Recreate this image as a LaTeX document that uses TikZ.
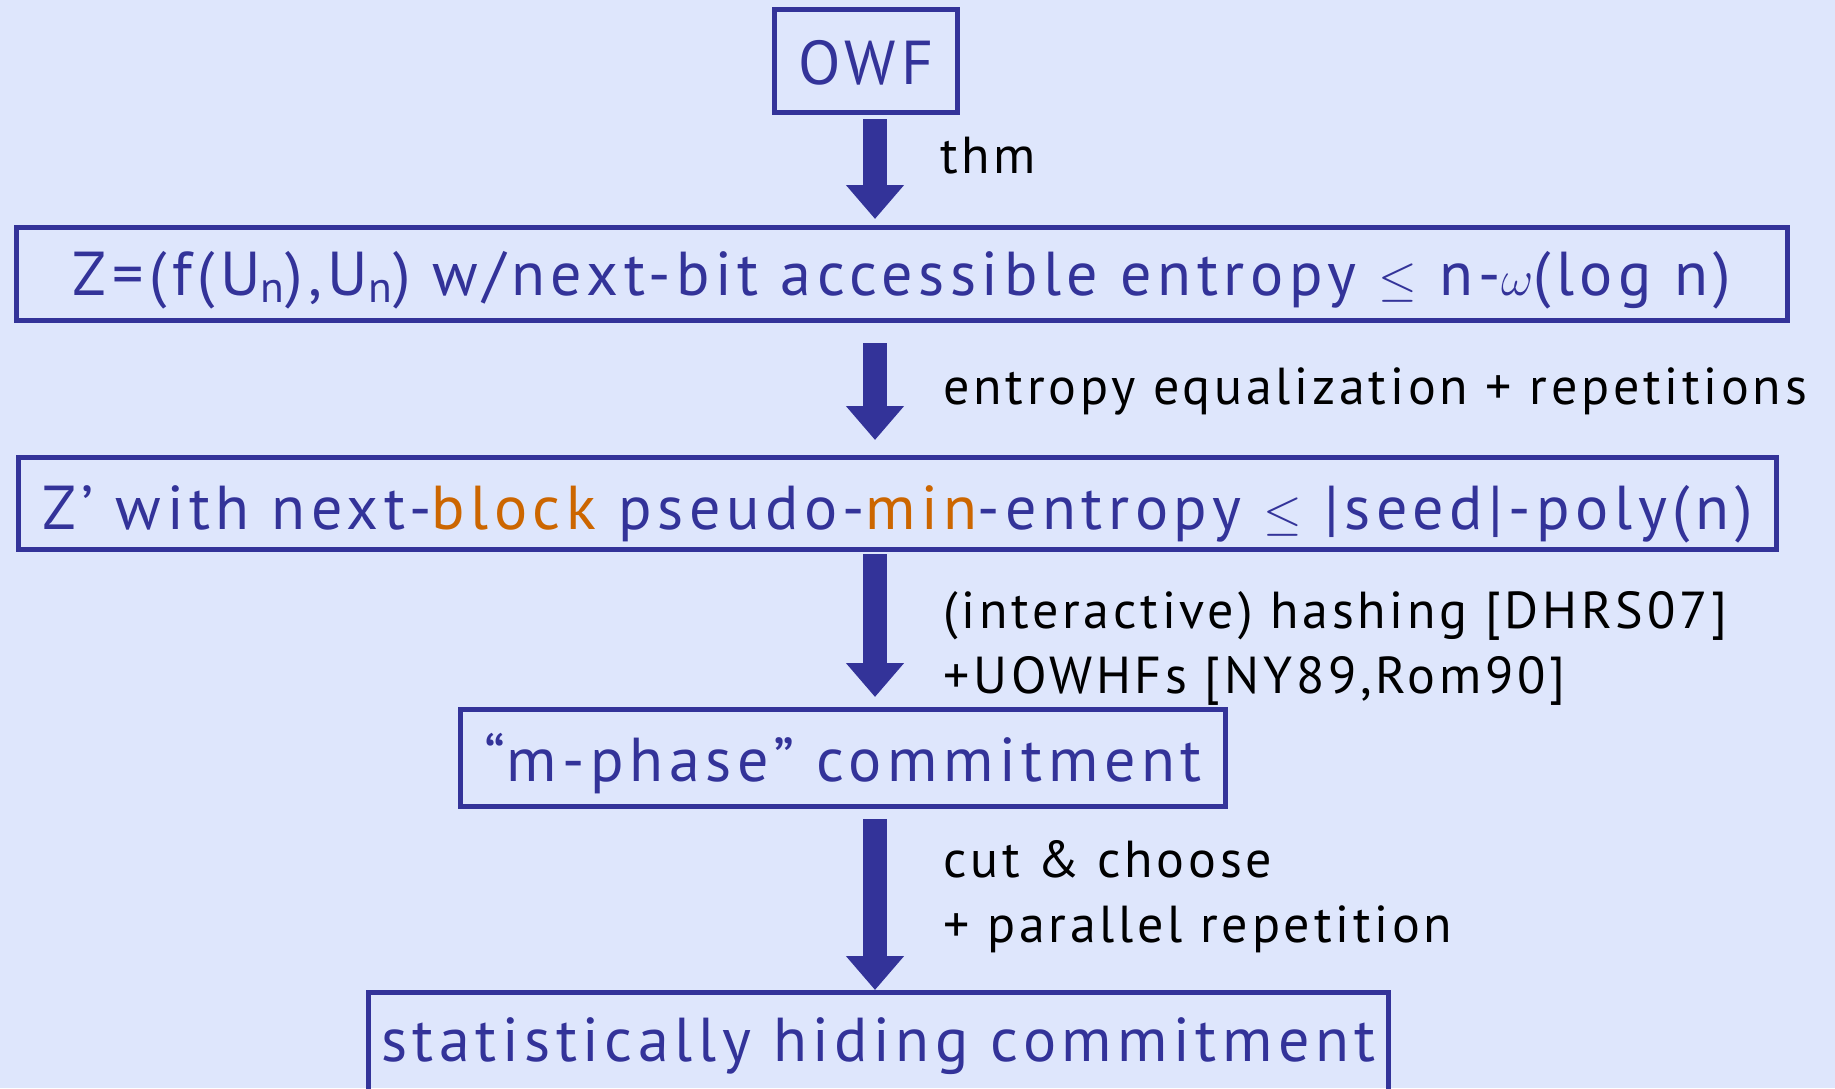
\documentclass[tikz,border=0pt]{standalone}
\usepackage{fontspec}
\setmainfont{PT Sans}
\newfontfamily\boxfont{PT Sans}[LetterSpace=9]
\newfontfamily\lblfont{PT Sans}[LetterSpace=7.2]
\usetikzlibrary{arrows.meta}
\definecolor{slideblue}{HTML}{333399}
\definecolor{slideorange}{HTML}{CC6600}
\definecolor{slidebg}{HTML}{DEE6FC}

\begin{document}
\begin{tikzpicture}[
    x=0.5pt, y=-0.5pt,
    box/.style={draw=slideblue, line width=2.5pt, text=slideblue, inner sep=0pt, anchor=base, font=\boxfont\fontsize{31}{37}\selectfont},
    lbl/.style={anchor=base west, inner sep=0pt, align=left, font=\lblfont\fontsize{26}{32.5}\selectfont},
    arr/.style={-{Triangle[length=17pt, width=28pt]}, line width=12pt, draw=slideblue},
]
\useasboundingbox[fill=slidebg] (0,0) rectangle (1835,1088);
\coordinate (spine) at (875,0);

\node[box, minimum width=91.5pt, text height=37.25pt, text depth=14.25pt] (owf) at (866,84) {OWF};
\node[box, minimum width=885.5pt, text height=33.75pt, text depth=12.75pt] (zbit) at (902,295)
    {Z=(f(U\textsubscript{n}),U\textsubscript{n}) w/next-bit accessible entropy $\leq$ n-$\omega$(log n)};
\node[box, minimum width=879pt, text height=35.75pt, text depth=10.25pt] (zblock) at (897.5,529)
    {Z’ with next-\textcolor{slideorange}{block} pseudo-\textcolor{slideorange}{min}-entropy $\leq$ |seed|-poly(n)};
\node[box, minimum width=382.5pt, text height=35.75pt, text depth=12.75pt] (mphase) at (843,781) {“m-phase” commitment};
\node[box, minimum width=510pt, text height=34.25pt, text depth=30pt] (stat) at (878.5,1061) {statistically hiding commitment};

\node[lbl] (l1) at (940,173) {thm};
\node[lbl] (l2) at (943,404) {entropy equalization + repetitions};
\node[lbl] (l3) at (943,693) {(interactive) hashing [DHRS07]\\+UOWHFs [NY89,Rom90]};
\node[lbl] (l4) at (943,942) {cut \& choose\\+ parallel repetition};

\draw[arr, shorten <=2pt, shorten >=3pt] (owf.south -| spine) -- (zbit.north -| spine);
\draw[arr, shorten <=10pt, shorten >=7.5pt] (zbit.south -| spine) -- (zblock.north -| spine);
\draw[arr, shorten <=1pt, shorten >=5pt] (zblock.south -| spine) -- (mphase.north -| spine);
\draw[arr, shorten <=5pt] (mphase.south -| spine) -- (stat.north -| spine);

\end{tikzpicture}
\end{document}
